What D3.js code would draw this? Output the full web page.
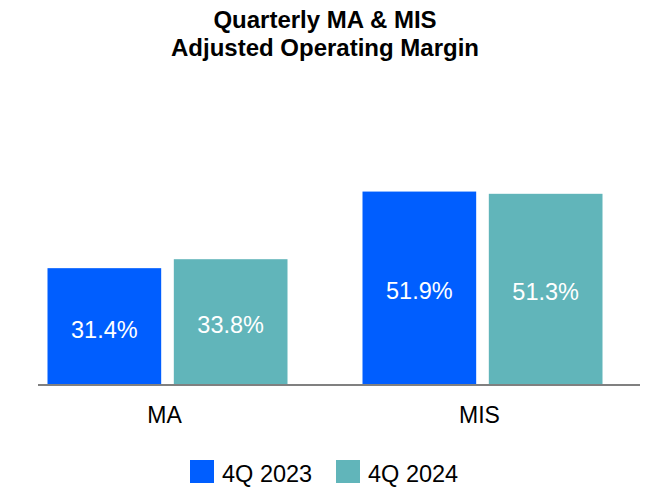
<!DOCTYPE html>
<html><head><meta charset="utf-8">
<script src="https://cdn.jsdelivr.net/npm/d3@7"></script>
<style>body{margin:0;background:#fff}svg{display:block}text{font-family:"Liberation Sans",Arial,sans-serif}</style>
</head><body>
<svg id="c" width="650" height="500"></svg>
<script>
const categories = ["MA", "MIS"];
const seriesNames = ["4Q 2023", "4Q 2024"];
const values2023 = [31.4, 51.9];
const values2024 = [33.8, 51.3];
const titleLines = ["Quarterly MA & MIS", "Adjusted Operating Margin"];

const colors = ["#005EFF", "#61B5BA"];
const seriesValues = [values2023, values2024];
const svg = d3.select("#c");

const x0 = d3.scaleBand().domain(categories).range([10, 640]).padding(0);
const x1 = d3.scaleBand().domain(seriesNames).range([37.5, 277.5]).paddingInner(0.1).paddingOuter(0);
const y = d3.scaleLinear().domain([0, 60]).range([385.5, 161.3]);

svg.selectAll("text.title").data(titleLines).join("text")
  .attr("x", 325).attr("y", (d, i) => 27.5 + i * 28)
  .attr("text-anchor", "middle").attr("font-weight", "bold").attr("font-size", 24)
  .attr("fill", "#000").text(d => d);

const g = svg.selectAll("g.cat").data(categories).join("g")
  .attr("transform", d => `translate(${x0(d)},0)`);

g.selectAll("rect").data((c, ci) => seriesNames.map((s, si) => ({s, si, v: seriesValues[si][ci]})))
  .join("rect")
  .attr("x", d => x1(d.s)).attr("width", x1.bandwidth())
  .attr("y", d => y(d.v)).attr("height", d => y(0) - y(d.v))
  .attr("fill", d => colors[d.si]);

g.selectAll("text.val").data((c, ci) => seriesNames.map((s, si) => ({s, si, v: seriesValues[si][ci]})))
  .join("text").attr("class", "val")
  .attr("x", d => x1(d.s) + x1.bandwidth() / 2)
  .attr("y", d => (y(d.v) + y(0)) / 2 + 10.8)
  .attr("text-anchor", "middle").attr("font-size", 23.5).attr("fill", "#fff")
  .text(d => d.v.toFixed(1) + "%");

svg.append("line").attr("x1", 38).attr("x2", 640).attr("y1", 385).attr("y2", 385)
  .attr("stroke", "#808080").attr("stroke-width", 2);

svg.selectAll("text.cat").data(categories).join("text").attr("class", "cat")
  .attr("x", d => x0(d) + x0.bandwidth() / 2 - 3).attr("y", 423)
  .attr("text-anchor", "middle").attr("font-size", 23).attr("fill", "#000").text(d => d);

const legX = [190, 336];
const lg = svg.selectAll("g.leg").data(seriesNames).join("g")
  .attr("transform", (d, i) => `translate(${legX[i]},460)`);
lg.append("rect").attr("width", 24).attr("height", 23).attr("fill", (d, i) => colors[i]);
lg.append("text").attr("x", 32).attr("y", 21.5).attr("font-size", 23.5).attr("fill", "#000").text(d => d);
</script>
</body></html>
